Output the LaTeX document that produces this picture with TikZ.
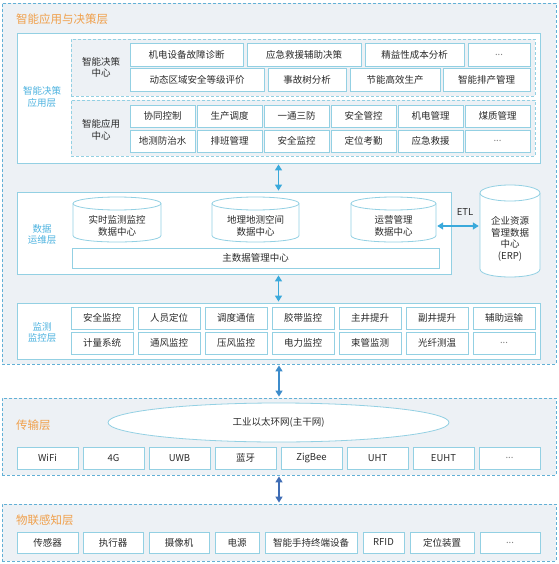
\documentclass[tikz,border=0pt]{standalone}
\usepackage{fontspec}
\setmainfont{Noto Sans CJK SC}
\usetikzlibrary{arrows.meta,shapes.geometric}
\definecolor{layerbg}{HTML}{EDF1F5}
\definecolor{dashc}{HTML}{62B0D6}
\definecolor{boxc}{HTML}{93D0E3}
\definecolor{orangec}{HTML}{F0A04B}
\definecolor{bluel}{HTML}{4DB3E0}
\definecolor{txt}{HTML}{2B2B2B}
\definecolor{arrA}{HTML}{3AA9DB}
\definecolor{arrB}{HTML}{3D8CCB}
\definecolor{arrC}{HTML}{3F6DB5}
\newcommand\myell{\textcolor{gray}{...}}
\newcommand\rb[7]{\node[#1,minimum width={(#5)-(#3)},minimum height={(#6)-(#4)}] (#2) at ({((#3)+(#5))/2},{((#4)+(#6))/2}) {#7};}
\newcommand\cyl[7]{%
  \draw[cylst] (#2,{#3+#6}) -- (#2,{#5-#6}) .. controls (#2,{#5+#6/3}) and (#4,{#5+#6/3}) .. (#4,{#5-#6}) -- (#4,{#3+#6});
  \draw[cylst] ({(#2+#4)/2},{#3+#6}) ellipse [x radius={(#4-#2)/2}, y radius=#6];
  \node[minimum width={#4-#2},minimum height=20] (#1) at ({(#2+#4)/2},{(#3+2*#6+#5)/2}) {#7};}
\begin{document}
\begin{tikzpicture}[x=1pt,y=-1pt,
  every node/.style={font=\fontsize{9.5}{11.5}\selectfont, text=txt, inner sep=0pt, align=center},
  layer/.style={draw=dashc, dash pattern=on 3pt off 2pt, line width=0.8pt, fill=layerbg},
  panel/.style={draw=boxc, line width=0.8pt, fill=white},
  subpanel/.style={draw=boxc, dash pattern=on 3pt off 2pt, line width=0.7pt, fill=layerbg},
  cell/.style={draw=boxc, line width=0.7pt, fill=white},
  cylst/.style={draw=boxc, line width=0.8pt, fill=white},
  ttl/.style={text=orangec, font=\fontsize{11.5}{13}\selectfont, anchor=west},
  lbl/.style={text=bluel},
  darr/.style={{Triangle[width=7pt,length=6pt]}-{Triangle[width=7pt,length=6pt]}, line width=1.4pt, shorten <=1pt, shorten >=1pt},
]
\fill[white] (0,0) rectangle (558,564);
\useasboundingbox (0,0) rectangle (558,564);

% layers
\rb{layer}{L1}{2}{3}{556}{364}{}
\rb{layer}{L2}{2}{398}{556}{475}{}
\rb{layer}{L3}{2}{504}{556}{561}{}
\node[ttl] (t1) at (16,19) {智能应用与决策层};
\node[ttl] (t2) at (16,425) {传输层};
\node[ttl] (t3) at (16,520) {物联感知层};

% intelligent application panel
\rb{panel}{P1}{17}{33}{540}{163}{}
\rb{subpanel}{S1}{71}{39}{535}{96}{}
\rb{subpanel}{S2}{71}{100}{535}{156}{}
\node[lbl] (p1l) at (42,97) {智能决策\\应用层};
\node (s1l) at (101,67.5) {智能决策\\中心};
\node (s2l) at (101,130) {智能应用\\中心};
\rb{cell}{a1}{130}{43}{243}{66}{机电设备故障诊断}
\rb{cell}{a2}{247}{43}{361}{66}{应急救援辅助决策}
\rb{cell}{a3}{365}{43}{464}{66}{精益性成本分析}
\rb{cell}{a4}{468}{43}{530}{66}{\myell}
\rb{cell}{b1}{130}{68}{264}{91}{动态区域安全等级评价}
\rb{cell}{b2}{268}{68}{346}{91}{事故树分析}
\rb{cell}{b3}{350}{68}{440}{91}{节能高效生产}
\rb{cell}{b4}{443}{68}{530}{91}{智能排产管理}
\foreach \t [count=\i from 0] in {协同控制,生产调度,一通三防,安全管控,机电管理,煤质管理}{
  \pgfmathsetmacro\xa{130+67*\i}
  \rb{cell}{c\i}{\xa}{105}{\xa+65}{127}{\t}}
\foreach \t [count=\i from 0] in {地测防治水,排班管理,安全监控,定位考勤,应急救援,\myell}{
  \pgfmathsetmacro\xa{130+67*\i}
  \rb{cell}{d\i}{\xa}{130}{\xa+65}{152}{\t}}

% data panel
\rb{panel}{P2}{17}{192}{451}{274}{}
\node[lbl] (p2l) at (42,234.5) {数据\\运维层};
\cyl{C1}{73}{197}{161}{242}{6.5}{实时监测监控\\数据中心}
\cyl{C2}{212}{197}{299}{242}{6.5}{地理地测空间\\数据中心}
\cyl{C3}{351}{197}{436}{242}{6.5}{运营管理\\数据中心}
\rb{cell}{M}{72}{248}{439}{268}{主数据管理中心}
\cyl{E}{480}{185}{540}{277}{8}{企业资源\\管理数据\\中心\\(ERP)}
\draw[darr,arrA] (C3.east) -- (C3.east -| E.west);
\node (etl) at (465,212) {ETL};

% monitoring panel
\rb{panel}{P3}{17}{303}{540}{359}{}
\node[lbl] (p3l) at (42,332.5) {监测\\监控层};
\foreach \t [count=\i from 0] in {安全监控,人员定位,调度通信,胶带监控,主井提升,副井提升,辅助运输}{
  \pgfmathsetmacro\xa{71+67*\i}
  \rb{cell}{m\i}{\xa}{307}{\xa+62}{329}{\t}}
\foreach \t [count=\i from 0] in {计量系统,通风监控,压风监控,电力监控,束管监测,光纤测温,\myell}{
  \pgfmathsetmacro\xa{71+67*\i}
  \rb{cell}{n\i}{\xa}{332}{\xa+62}{354}{\t}}

\draw[darr,arrA] (P1.south) -- (P1.south |- P2.north);
\draw[darr,arrA] (P3.north |- P2.south) -- (P3.north);

% transmission layer
\node[ellipse, draw=boxc, line width=0.8pt, fill=white, minimum width=341, minimum height=39] (ring) at (278.5,422.5) {工业以太环网(主干网)};
\foreach \t [count=\i from 0] in {WiFi,4G,UWB,蓝牙,ZigBee,UHT,EUHT,\myell}{
  \pgfmathsetmacro\xa{17+66*\i}
  \rb{cell}{w\i}{\xa}{447}{\xa+61}{469}{\t}}

% IoT layer
\rb{cell}{i1}{17}{532}{78}{553}{传感器}
\rb{cell}{i2}{83}{532}{143}{553}{执行器}
\rb{cell}{i3}{149}{532}{209}{553}{摄像机}
\rb{cell}{i4}{215}{532}{259}{553}{电源}
\rb{cell}{i5}{265}{532}{357}{553}{智能手持终端设备}
\rb{cell}{i6}{363}{532}{404}{553}{RFID}
\rb{cell}{i7}{410}{532}{474}{553}{定位装置}
\rb{cell}{i8}{480}{532}{540}{553}{\myell}

\draw[darr,arrB] (L1.south) -- (L2.north);
\draw[darr,arrC] (L2.south) -- (L3.north);
\end{tikzpicture}
\end{document}
